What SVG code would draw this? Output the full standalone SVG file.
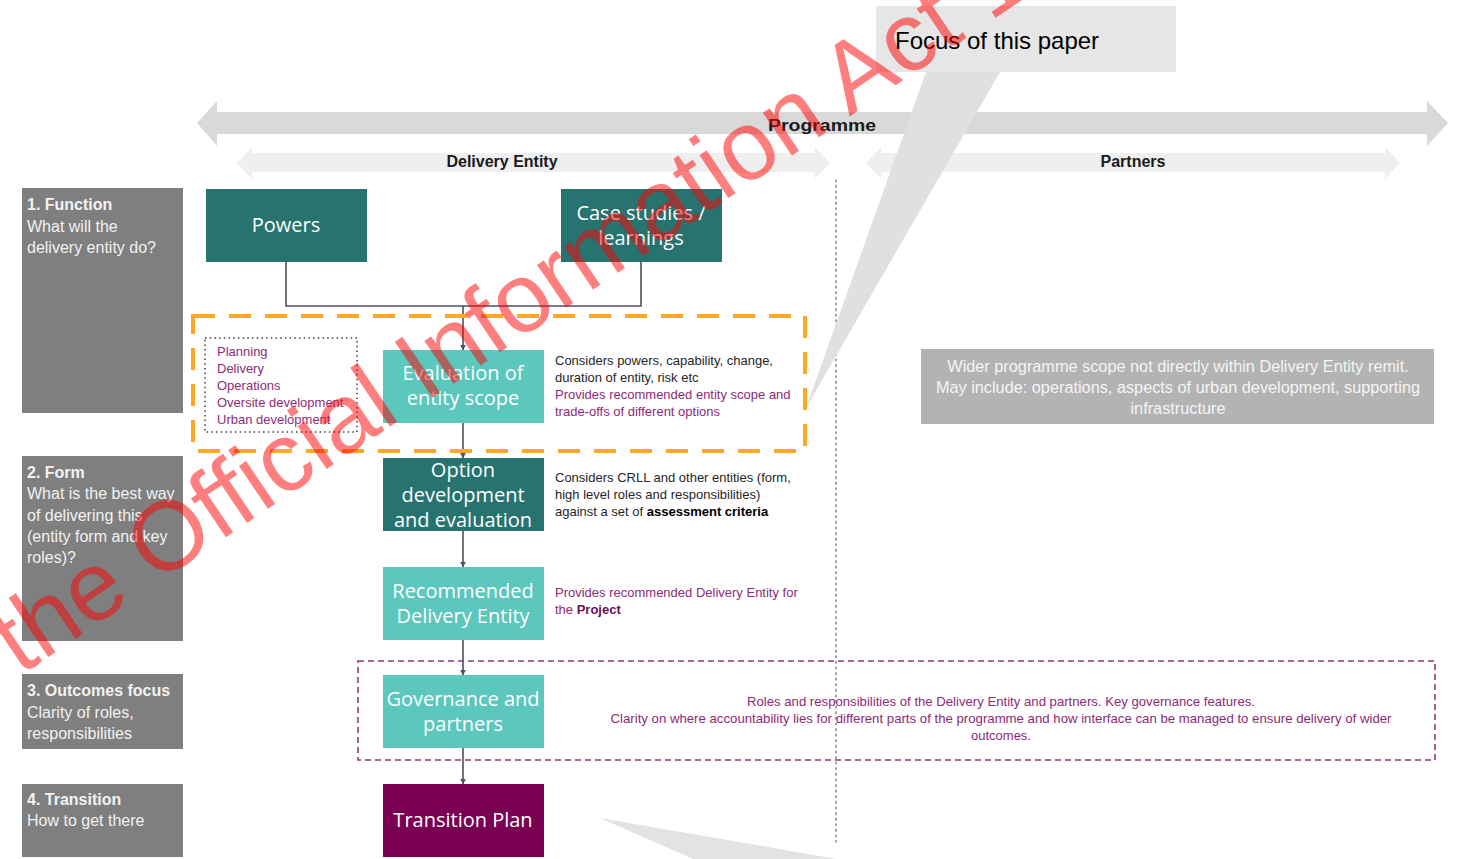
<svg xmlns="http://www.w3.org/2000/svg" width="1460" height="859" viewBox="0 0 1460 859">
<style>
.lbl{fill:#7f7f7f}
.lt{font-family:"Liberation Sans",Arial,sans-serif;font-size:16px;fill:#f2f2f2}
.lb{font-weight:bold}
.dk{fill:#267370}
.li{fill:#5bc7bd}
.nt{font-family:"Open Sans","Noto Sans",sans-serif;font-size:20px;fill:#ffffff;text-anchor:middle}
.sm{font-family:"Liberation Sans",Arial,sans-serif;font-size:13px;fill:#262626}
.pu{fill:#8e2a78}
.con{stroke:#4a5263;stroke-width:1.6;fill:none}
.hd{font-family:"Liberation Sans",Arial,sans-serif;font-size:16px;font-weight:bold;fill:#1a1a1a;text-anchor:middle}
</style>
<defs>
<marker id="ah" viewBox="0 0 10 10" refX="9" refY="5" markerWidth="6" markerHeight="6" orient="auto" markerUnits="userSpaceOnUse">
<path d="M0,0 L10,5 L0,10 z" fill="#4a5263"/>
</marker>
</defs>
<rect width="1460" height="859" fill="#ffffff"/>

<g id="programme-arrow">
<polygon points="197,123 217,101 217,112 1427,112 1427,101 1448,123 1427,146 1427,134 217,134 217,146" fill="#d9d9d9"/>
<text x="822" y="131" class="hd" font-size="21" textLength="108" lengthAdjust="spacingAndGlyphs">Programme</text>
</g>
<g id="delivery-entity-arrow">
<polygon points="237,163 252,147 252,153 815,153 815,147 830,163 815,179 815,172 252,172 252,179" fill="#efefef"/>
<text x="502" y="167" class="hd">Delivery Entity</text>
</g>
<g id="partners-arrow">
<polygon points="866,163 881,147 881,153 1385,153 1385,147 1400,163 1385,179 1385,172 881,172 881,179" fill="#efefef"/>
<text x="1133" y="167" class="hd">Partners</text>
</g>

<line x1="836" y1="180" x2="836" y2="842" stroke="#8c8c8c" stroke-width="1.6" stroke-dasharray="1.6,4" stroke-linecap="round"/>

<g id="focus-callout">
<rect x="876" y="6" width="300" height="66" fill="#e6e6e6"/>
<polygon points="926,72 1000,72 806,408" fill="#e0e0e0"/>
<text x="895" y="49" font-family="Liberation Sans,Arial,sans-serif" font-size="24" fill="#000">Focus of this paper</text>
</g>
<polygon points="600,818 837,859 693,859" fill="#e3e3e3"/>

<g id="row-function">
<rect x="22" y="188" width="161" height="225" class="lbl"/>
<text class="lt"><tspan x="27" y="210" class="lb">1. Function</tspan><tspan x="27" y="232">What will the</tspan><tspan x="27" y="253">delivery entity do?</tspan></text>
</g>
<g id="row-form">
<rect x="22" y="456" width="161" height="185" class="lbl"/>
<text class="lt"><tspan x="27" y="478" class="lb">2. Form</tspan><tspan x="27" y="499">What is the best way</tspan><tspan x="27" y="521">of delivering this</tspan><tspan x="27" y="542">(entity form and key</tspan><tspan x="27" y="563">roles)?</tspan></text>
</g>
<g id="row-outcomes">
<rect x="22" y="674" width="161" height="75" class="lbl"/>
<text class="lt"><tspan x="27" y="696" class="lb">3. Outcomes focus</tspan><tspan x="27" y="718">Clarity of roles,</tspan><tspan x="27" y="739">responsibilities</tspan></text>
</g>
<g id="row-transition">
<rect x="22" y="784" width="161" height="73" class="lbl"/>
<text class="lt"><tspan x="27" y="805" class="lb">4. Transition</tspan><tspan x="27" y="826">How to get there</tspan></text>
</g>

<g id="connectors">
<polyline points="286,262 286,306 641,306 641,262" class="con"/>
<line x1="463" y1="306" x2="463" y2="350" class="con" marker-end="url(#ah)"/>
<line x1="463" y1="423" x2="463" y2="458" class="con" marker-end="url(#ah)"/>
<line x1="463" y1="531" x2="463" y2="567" class="con" marker-end="url(#ah)"/>
<line x1="463" y1="640" x2="463" y2="675" class="con" marker-end="url(#ah)"/>
<line x1="463" y1="748" x2="463" y2="784" class="con" marker-end="url(#ah)"/>
</g>

<g id="focus-box">
<rect x="193" y="316" width="612" height="135" fill="none" stroke="#ffa726" stroke-width="4" stroke-dasharray="22,14"/>
</g>
<g id="scope-list">
<rect x="205" y="338" width="152" height="94" fill="none" stroke="#404040" stroke-width="1.5" stroke-dasharray="1.5,3.2"/>
<text class="sm pu"><tspan x="217" y="356">Planning</tspan><tspan x="217" y="373">Delivery</tspan><tspan x="217" y="390">Operations</tspan><tspan x="217" y="407">Oversite  development</tspan><tspan x="217" y="424">Urban development</tspan></text>
</g>
<g id="governance-box">
<rect x="358" y="661" width="1077" height="99" fill="none" stroke="#8e3a76" stroke-width="1.6" stroke-dasharray="6,4"/>
</g>

<g id="node-powers">
<rect x="206" y="189" width="161" height="73" class="dk"/>
<text x="286" y="232" class="nt">Powers</text>
</g>
<g id="node-case-studies">
<rect x="561" y="189" width="161" height="73" class="dk"/>
<text class="nt"><tspan x="641" y="220">Case studies /</tspan><tspan x="641" y="245">learnings</tspan></text>
</g>
<g id="node-evaluation">
<rect x="383" y="350" width="161" height="73" class="li"/>
<text class="nt"><tspan x="463" y="380">Evaluation of</tspan><tspan x="463" y="405">entity scope</tspan></text>
<text class="sm"><tspan x="555" y="365">Considers powers, capability, change,</tspan><tspan x="555" y="382">duration of entity, risk etc</tspan><tspan x="555" y="399" class="pu">Provides recommended  entity scope and</tspan><tspan x="555" y="416" class="pu">trade-offs of different options</tspan></text>
</g>
<g id="node-option">
<rect x="383" y="458" width="161" height="73" class="dk"/>
<text class="nt"><tspan x="463" y="477">Option</tspan><tspan x="463" y="502">development</tspan><tspan x="463" y="527">and evaluation</tspan></text>
<text class="sm"><tspan x="555" y="482">Considers CRLL and other entities (form,</tspan><tspan x="555" y="499">high level  roles and responsibilities)</tspan><tspan x="555" y="516">against a set of <tspan font-weight="bold" fill="#000">assessment  criteria</tspan></tspan></text>
</g>
<g id="node-recommended">
<rect x="383" y="567" width="161" height="73" class="li"/>
<text class="nt"><tspan x="463" y="598">Recommended</tspan><tspan x="463" y="623">Delivery Entity</tspan></text>
<text class="sm pu"><tspan x="555" y="597">Provides recommended  Delivery Entity for</tspan><tspan x="555" y="614">the <tspan font-weight="bold" fill="#6e1050">Project</tspan></tspan></text>
</g>
<g id="node-governance">
<rect x="383" y="675" width="161" height="73" class="li"/>
<text class="nt"><tspan x="463" y="706">Governance and</tspan><tspan x="463" y="731">partners</tspan></text>
<text class="sm pu" text-anchor="middle"><tspan x="1001" y="706" textLength="508" lengthAdjust="spacingAndGlyphs">Roles and responsibilities of the Delivery Entity and partners. Key governance features.</tspan><tspan x="1001" y="723" textLength="781" lengthAdjust="spacingAndGlyphs">Clarity on where accountability lies for different parts of the programme and how interface can be managed to ensure delivery of wider</tspan><tspan x="1001" y="740">outcomes.</tspan></text>
</g>
<g id="node-transition">
<rect x="383" y="784" width="161" height="73" fill="#7a0054"/>
<text x="463" y="827" class="nt">Transition Plan</text>
</g>
<g id="node-wider">
<rect x="921" y="349" width="513" height="75" fill="#b3b3b3"/>
<text font-family="Liberation Sans,Arial,sans-serif" font-size="16.3" fill="#f5f5f5" text-anchor="middle"><tspan x="1178" y="372">Wider programme  scope not directly within Delivery Entity remit.</tspan><tspan x="1178" y="393">May include: operations, aspects of urban development, supporting</tspan><tspan x="1178" y="414">infrastructure</tspan></text>
</g>

<g id="watermark" transform="translate(20,676) rotate(-34)">
<text x="-719" y="0" font-family="Liberation Sans,Arial,sans-serif" font-size="98" fill="#ff0000" opacity="0.5">Released under the Official Information Act 1982</text>
</g>
</svg>
